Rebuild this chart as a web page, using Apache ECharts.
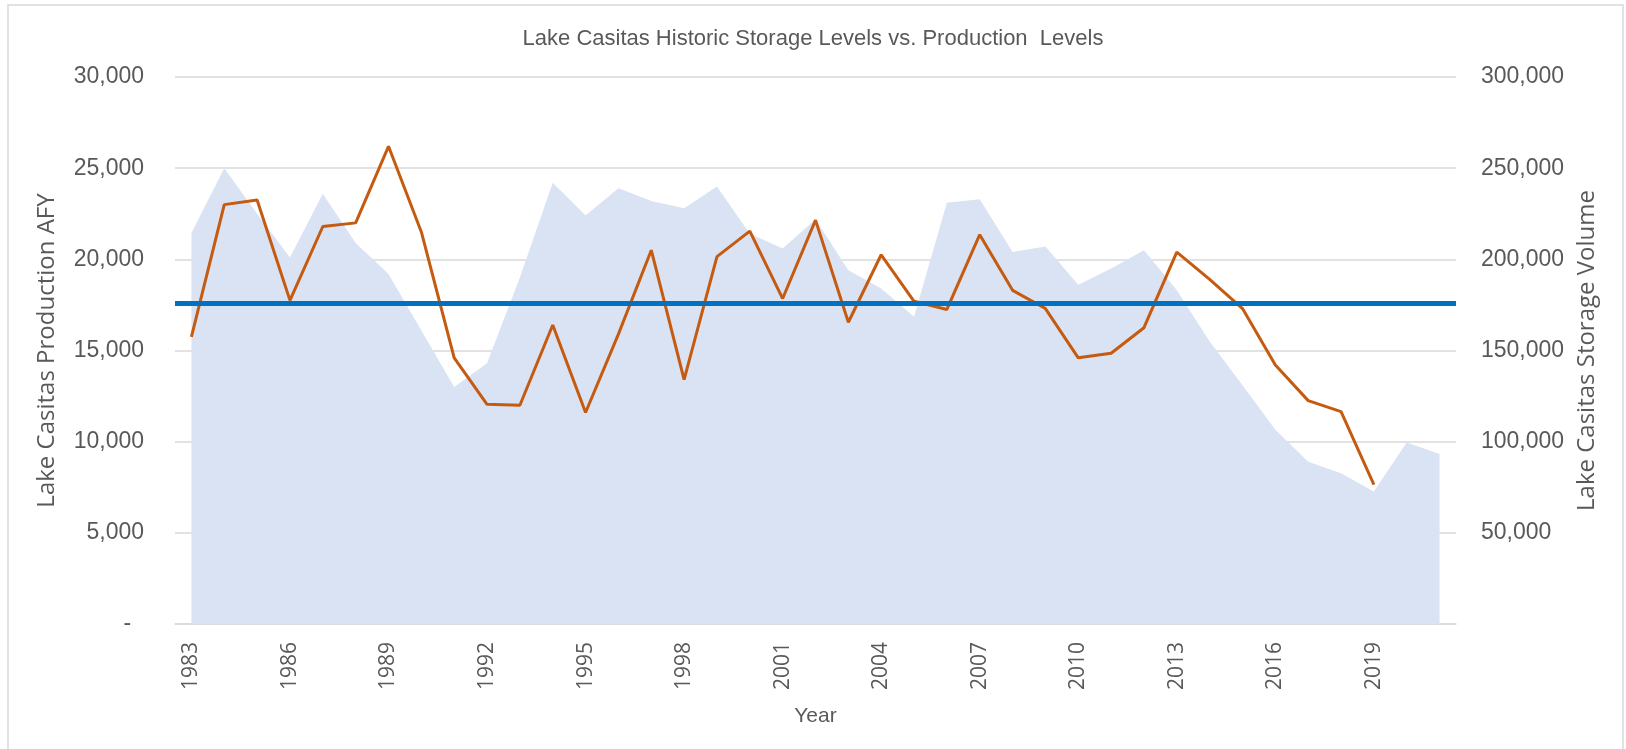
<!DOCTYPE html>
<html>
<head>
<meta charset="utf-8">
<script src="https://cdn.jsdelivr.net/npm/echarts@6/dist/echarts.min.js"></script>
<style>
  html, body { margin: 0; padding: 0; background: #fff; }
  #main { width: 1626px; height: 749px; }
</style>
</head>
<body>
<div id="main"></div>
<script>
// years on the category axis
const years = [];
for (let y = 1983; y <= 2021; y++) years.push(String(y));

// Lake Casitas production (AFY), 1983-2019
const production = [
  15750, 23000, 23250, 17750, 21800, 22000, 26200, 21500, 14600, 12050,
  12000, 16400, 11600, 15900, 20500, 13400, 20150, 21550, 17850, 22150,
  16550, 20250, 17700, 17250, 21350, 18300, 17300, 14600, 14850, 16250,
  20400, 18900, 17300, 14200, 12250, 11650, 7650
];

// Lake Casitas storage volume, 1983-2021
const storage = [
  214500, 250000, 225000, 201000, 236000, 209000, 192000, 161000, 130000, 143000,
  190000, 242000, 224000, 239000, 232000, 228000, 240000, 214000, 206000, 222000,
  194000, 184000, 168500, 231000, 233000, 204000, 207000, 186000, 195000, 205000,
  183000, 155000, 131000, 106500, 89000, 82700, 72700, 99500, 93200
];

// average production reference line
const avgProduction = 17600;

var chartDom = document.getElementById('main');
var myChart = echarts.init(chartDom);
var option;

const txt = '#595959';
const numFont = '"Liberation Sans", Arial, sans-serif';
const wideFont = '"Open Sans", "DejaVu Sans", sans-serif';

option = {
  animation: false,
  backgroundColor: '#fff',
  graphic: [{
    type: 'rect',
    shape: { x: 8, y: 5, width: 1615, height: 760 },
    style: { fill: 'none', stroke: '#d9d9d9', lineWidth: 1.5 },
    silent: true
  }],
  title: {
    text: 'Lake Casitas Historic Storage Levels vs. Production  Levels',
    left: 'center',
    top: 23,
    textStyle: { color: txt, fontSize: 22, fontWeight: 'normal', fontFamily: numFont }
  },
  grid: { left: 175, right: 170, top: 77, bottom: 125 },
  xAxis: {
    type: 'category',
    data: years,
    boundaryGap: true,
    name: 'Year',
    nameLocation: 'middle',
    nameGap: 82,
    nameTextStyle: { color: txt, fontSize: 21, fontFamily: numFont },
    axisLine: { lineStyle: { color: '#d9d9d9', width: 1.5 } },
    axisTick: { show: false },
    axisLabel: {
      interval: 2,
      rotate: 90,
      margin: 18,
      color: txt,
      fontSize: 21,
      fontFamily: wideFont
    }
  },
  yAxis: [
    {
      type: 'value',
      min: 0,
      max: 30000,
      interval: 5000,
      name: 'Lake Casitas Production AFY',
      nameLocation: 'middle',
      nameGap: 116,
      nameRotate: 90,
      nameTextStyle: { color: txt, fontSize: 24, fontFamily: wideFont },
      axisLine: { show: false },
      axisTick: { show: false },
      axisLabel: {
        color: txt,
        fontSize: 23,
        fontFamily: numFont,
        margin: 31,
        formatter: function (v) { return v === 0 ? '-  ' : v.toLocaleString('en-US'); }
      },
      splitLine: { lineStyle: { color: '#d9d9d9', width: 1.5 } }
    },
    {
      type: 'value',
      min: 0,
      max: 300000,
      interval: 50000,
      name: 'Lake Casitas Storage Volume',
      nameLocation: 'middle',
      nameGap: 118,
      nameRotate: 90,
      nameTextStyle: { color: txt, fontSize: 24, fontFamily: wideFont },
      axisLine: { show: false },
      axisTick: { show: false },
      axisLabel: {
        color: txt,
        fontSize: 23,
        fontFamily: numFont,
        margin: 25,
        formatter: function (v) { return v === 0 ? '' : v.toLocaleString('en-US'); }
      },
      splitLine: { show: false }
    }
  ],
  series: [
    {
      name: 'Storage',
      type: 'line',
      yAxisIndex: 1,
      data: storage,
      symbol: 'none',
      lineStyle: { width: 0 },
      areaStyle: { color: '#dae3f3', opacity: 1 },
      z: 1
    },
    {
      name: 'Production',
      type: 'line',
      yAxisIndex: 0,
      data: production,
      symbol: 'none',
      lineStyle: { color: '#c55a11', width: 3 },
      z: 3,
      markLine: {
        silent: true,
        symbol: 'none',
        label: { show: false },
        lineStyle: { color: '#0070c0', width: 5, type: 'solid' },
        data: [{ yAxis: avgProduction }]
      }
    }
  ]
};

option && myChart.setOption(option);
</script>
</body>
</html>
